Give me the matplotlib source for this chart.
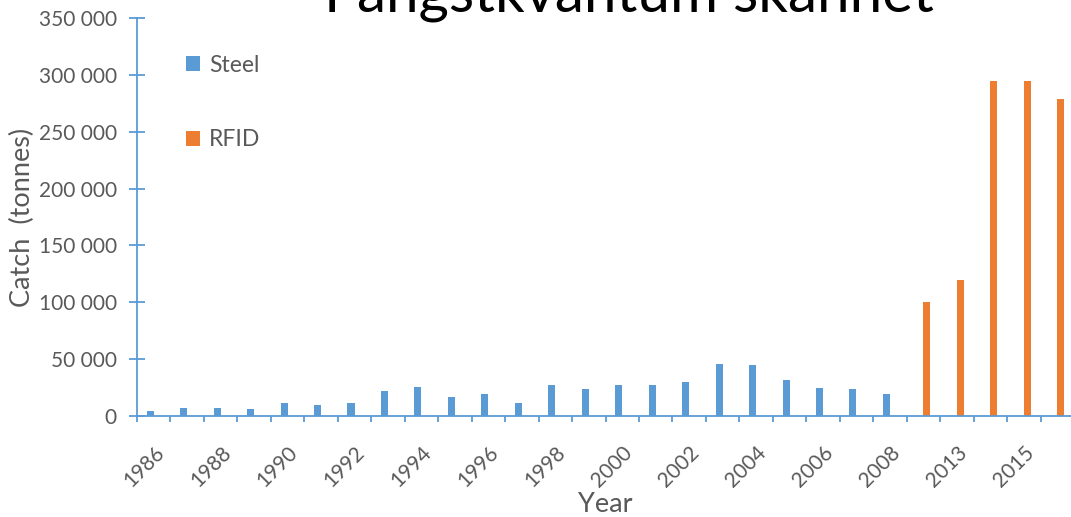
import matplotlib
matplotlib.use("Agg")
import matplotlib.pyplot as plt
from matplotlib import ticker
import numpy as np

plt.rcParams['font.family'] = ['Lato', 'DejaVu Sans']

# catch per year, tonnes
steel_years = [1986, 1987, 1988, 1989, 1990, 1991, 1992, 1993, 1994, 1995, 1996, 1997,
               1998, 1999, 2000, 2001, 2002, 2003, 2004, 2005, 2006, 2007, 2008]
steel_catch = [4700, 7300, 7300, 5900, 11200, 9700, 11200, 21700, 25800, 16400, 19000, 11200,
               27200, 23400, 27200, 27200, 29900, 46000, 44800, 31400, 24600, 23400, 19300]
rfid_years = [2012, 2013, 2014, 2015, 2016]
rfid_catch = [100000, 120000, 295000, 295000, 279000]

years = steel_years + rfid_years
tick_labels = [str(y) if i % 2 == 0 else '' for i, y in enumerate(years)]

blue = '#5B9BD5'
orange = '#ED7D31'
grey = '#595959'

fig = plt.figure(figsize=(10.71, 5.17), dpi=100)
ax = fig.add_axes([137/1071, 101/517, 937/1071, 398/517])

idx = {y: i for i, y in enumerate(years)}
xs = [idx[y] for y in steel_years]
xr = [idx[y] for y in rfid_years]
w = 0.21
ax.bar(xs, steel_catch, width=-w, align='edge', color=blue, label='Steel')
ax.bar(xr, rfid_catch, width=w, align='edge', color=orange, label='RFID')

ax.set_xlim(-0.5, len(years) - 0.5)
ax.set_ylim(0, 350000)

for s in ['top', 'right']:
    ax.spines[s].set_visible(False)
for s in ['left', 'bottom']:
    ax.spines[s].set_color(blue)
    ax.spines[s].set_linewidth(1.3)

ax.yaxis.set_major_locator(ticker.MultipleLocator(50000))
ax.yaxis.set_major_formatter(ticker.FuncFormatter(lambda v, p: f'{int(v):,}'.replace(',', ' ')))
ax.tick_params(axis='y', direction='inout', length=11, width=1.3, color=blue,
               labelsize=15, labelcolor=grey, pad=9)

ax.set_xticks(range(len(years)))
ax.set_xticklabels(tick_labels, rotation=45, ha='right', va='top', rotation_mode='anchor')
ax.set_xticks(np.arange(-0.5, len(years), 1), minor=True)
ax.tick_params(axis='x', which='major', length=0, labelsize=15, labelcolor=grey, pad=19)
ax.tick_params(axis='x', which='minor', direction='out', length=4.5, width=1.3, color=blue)

ax.set_ylabel('Catch  (tonnes)', fontsize=19.5, color=grey, labelpad=3)
ax.set_xlabel('Year', fontsize=19.5, color=grey)
ax.xaxis.set_label_coords(0.5, -0.24)
ax.xaxis.label.set_va('baseline')

ax.legend(loc='upper left', bbox_to_anchor=(0.0405, 0.937), frameon=False, fontsize=16.5,
          handlelength=0.6, handleheight=0.6, handletextpad=0.4, labelspacing=2.35,
          labelcolor=grey, borderpad=0)

fig.text(0.587, 1 - 11/517, 'Fangstkvantum skannet', fontsize=42, color='black',
         ha='center', va='baseline')

plt.savefig('out.png', dpi=100)
